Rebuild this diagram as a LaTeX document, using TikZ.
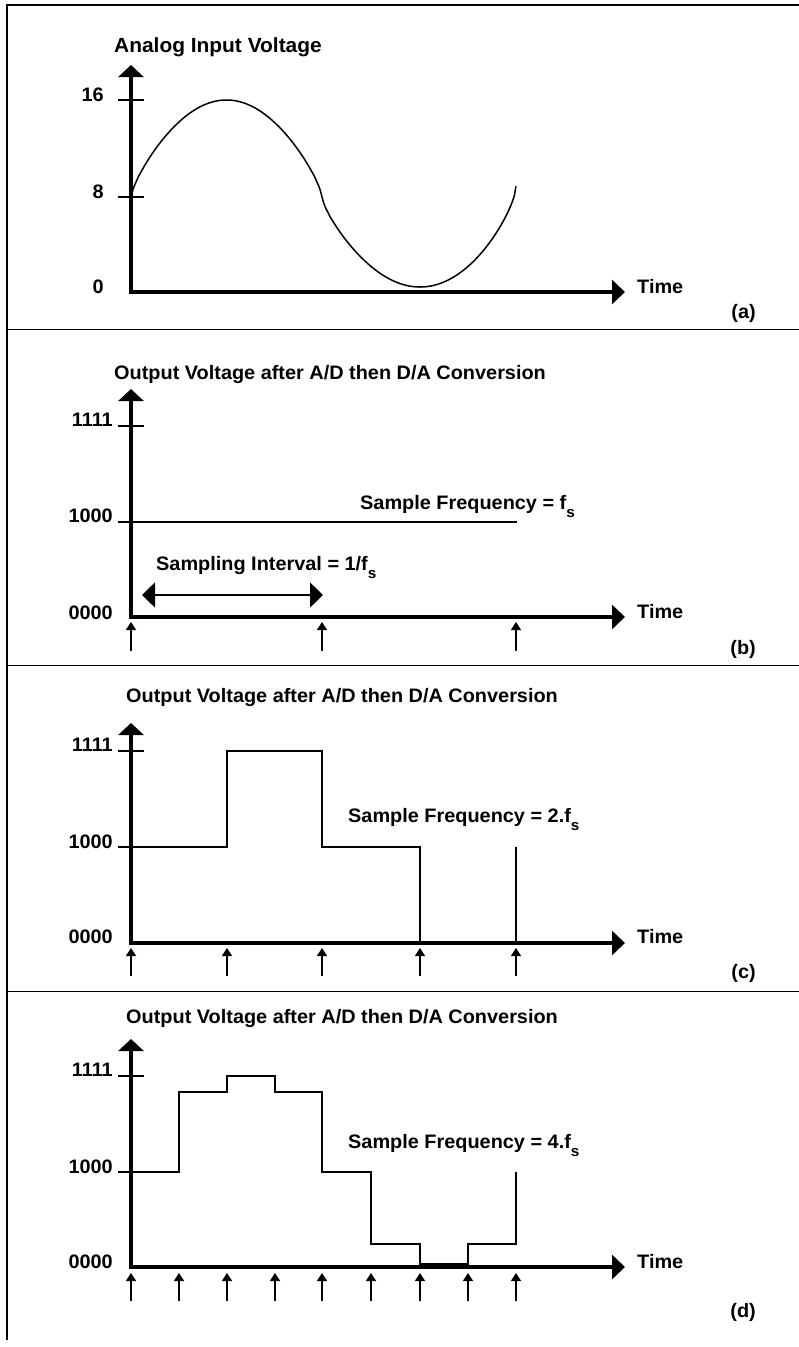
\documentclass[tikz,border=0pt]{standalone}
\usepackage{fontspec}
\setmainfont{Liberation Sans}[FakeStretch=1.02]
\usetikzlibrary{arrows.meta}
\newcommand\lowsub[1]{\raisebox{-8pt}{\fontsize{15}{15}\selectfont #1}}
\begin{document}
\begin{tikzpicture}[x=1pt,y=-1pt,
  lab/.style={font=\fontsize{19.5}{19.5}\selectfont\bfseries, inner sep=0pt},
  axis/.style={line width=3.5pt, line join=miter,
    {Triangle[length=12pt,width=25pt]}-{Triangle[length=13pt,width=24pt]}},
  tickmark/.style={line width=1.5pt},
  wave/.style={line width=1.5pt},
  sample/.style={line width=1.3pt, -{Triangle[length=8pt,width=10pt]}},
  interval/.style={line width=1.5pt,
    {Triangle[length=13pt,width=25pt]}-{Triangle[length=13pt,width=25pt]}},
  frame/.style={line width=2pt},
  divider/.style={line width=1pt}]
\useasboundingbox (0,0) rectangle (799,1347);

% outer frame and panel dividers
\coordinate (tl) at (7,5);
\coordinate (tr) at (799,5);
\coordinate (bl) at (7,1340);
\draw[frame] (tr) -- (tl) -- (bl);
\foreach \y/\n in {329/ab,665/bc,991/cd}{
  \coordinate (div\n L) at (7,\y);
  \coordinate (div\n R) at (799,\y);
  \draw[divider] (div\n L) -- (div\n R);
}

% ---------------- (a) analog input ----------------
\coordinate (aTop) at (131,65);
\coordinate (aO) at (131,292);
\coordinate (aEnd) at (625,292);
\draw[axis] (aTop) -- (aO) -- (aEnd);
\draw[tickmark] (118,100) -- (144,100);
\draw[tickmark] (118,197) -- (144,197);
\node[lab, anchor=base west, font=\fontsize{20.5}{20.5}\selectfont\bfseries] (aTitle) at (114,52.5) {Analog Input Voltage};
\node[lab, anchor=east] (a16) at (104,95) {16};
\node[lab, anchor=east] (a8) at (104,192) {8};
\node[lab, anchor=east] (a0) at (104,287) {0};
\node[lab, anchor=west] (aTime) at (637,287) {Time};
\node[lab, anchor=east] (aTag) at (756,313) {(a)};
% rounded crest, trough, rising tail
\draw[wave] plot[domain=131:322, samples=100] (\x, {197-97*pow(abs(sin((\x-131)*0.94241)),0.75)})
  -- plot[domain=322:420, samples=50] (\x, {197+90*pow(abs(sin((\x-322)*0.91837)),0.75)})
  -- plot[domain=420:516, samples=60]
     (\x, {287-101*(0.6*((\x-420)/96)^2+0.4*(1-sqrt(max(0,1-((\x-420)/96)^2))))});

% ---------------- (b) sampled at f_s ----------------
\coordinate (bTop) at (131,389);
\coordinate (bO) at (131,617);
\coordinate (bEnd) at (625,617);
\draw[axis] (bTop) -- (bO) -- (bEnd);
\draw[tickmark] (118,426) -- (144,426);
\draw[tickmark] (118,522) -- (131,522);
\node[lab, anchor=base west] (bTitle) at (114,379.5) {Output Voltage after A/D then D/A Conversion};
\node[lab, anchor=east] (b1111) at (113,420) {1111};
\node[lab, anchor=east] (b1000) at (113,516) {1000};
\node[lab, anchor=east] (b0000) at (113,613) {0000};
\node[lab, anchor=west] (bTime) at (637,612) {Time};
\node[lab, anchor=east] (bTag) at (756,649) {(b)};
\draw[wave] (131,522) -- (517,522);
\node[lab, anchor=base west] (bFreq) at (360,509) {Sample Frequency = f\lowsub{s}};
\node[lab, anchor=base west] (bInt) at (156,570.7) {Sampling Interval = 1/f\lowsub{s}};
\coordinate (bIntL) at (142,595);
\coordinate (bIntR) at (323,595);
\draw[interval] (bIntL) -- (bIntR);
\foreach \x in {131,322,516}{
  \coordinate (bs\x) at (\x,651);
  \coordinate (bt\x) at (\x,622);
  \draw[sample] (bs\x) -- (bt\x);
}

% ---------------- (c) sampled at 2 f_s ----------------
\coordinate (cTop) at (131,723);
\coordinate (cO) at (131,943);
\coordinate (cEnd) at (625,943);
\draw[axis] (cTop) -- (cO) -- (cEnd);
\draw[tickmark] (118,751) -- (144,751);
\draw[tickmark] (118,847) -- (131,847);
\node[lab, anchor=base west] (cTitle) at (126,702.5) {Output Voltage after A/D then D/A Conversion};
\node[lab, anchor=east] (c1111) at (113,745) {1111};
\node[lab, anchor=east] (c1000) at (113,842) {1000};
\node[lab, anchor=east] (c0000) at (113,937) {0000};
\node[lab, anchor=west] (cTime) at (637,937) {Time};
\node[lab, anchor=east] (cTag) at (756,973) {(c)};
\node[lab, anchor=base west] (cFreq) at (348,822) {Sample Frequency = 2.f\lowsub{s}};
\draw[wave] (131,847) -- (227,847) -- (227,751) -- (322,751) -- (322,847)
  -- (420,847) -- (420,943);
\draw[wave] (516,943) -- (516,847);
\foreach \x in {131,227,322,420,516}{
  \coordinate (cs\x) at (\x,976);
  \coordinate (ct\x) at (\x,948);
  \draw[sample] (cs\x) -- (ct\x);
}

% ---------------- (d) sampled at 4 f_s ----------------
\coordinate (dTop) at (131,1039);
\coordinate (dO) at (131,1267);
\coordinate (dEnd) at (625,1267);
\draw[axis] (dTop) -- (dO) -- (dEnd);
\draw[tickmark] (118,1076) -- (144,1076);
\draw[tickmark] (118,1172) -- (131,1172);
\node[lab, anchor=base west] (dTitle) at (126,1023.5) {Output Voltage after A/D then D/A Conversion};
\node[lab, anchor=east] (d1111) at (113,1070) {1111};
\node[lab, anchor=east] (d1000) at (113,1167) {1000};
\node[lab, anchor=east] (d0000) at (113,1262) {0000};
\node[lab, anchor=west] (dTime) at (637,1262) {Time};
\node[lab, anchor=east] (dTag) at (756,1312) {(d)};
\node[lab, anchor=base west] (dFreq) at (348,1148) {Sample Frequency = 4.f\lowsub{s}};
\draw[wave] (131,1172) -- (179,1172) -- (179,1092) -- (227,1092) -- (227,1076)
  -- (275,1076) -- (275,1092) -- (322,1092) -- (322,1172) -- (371,1172)
  -- (371,1244) -- (420,1244) -- (420,1264) -- (468,1264) -- (468,1244)
  -- (516,1244) -- (516,1172);
\foreach \x in {131,179,227,275,322,371,420,468,516}{
  \coordinate (ds\x) at (\x,1301);
  \coordinate (dt\x) at (\x,1273);
  \draw[sample] (ds\x) -- (dt\x);
}
\end{tikzpicture}
\end{document}
